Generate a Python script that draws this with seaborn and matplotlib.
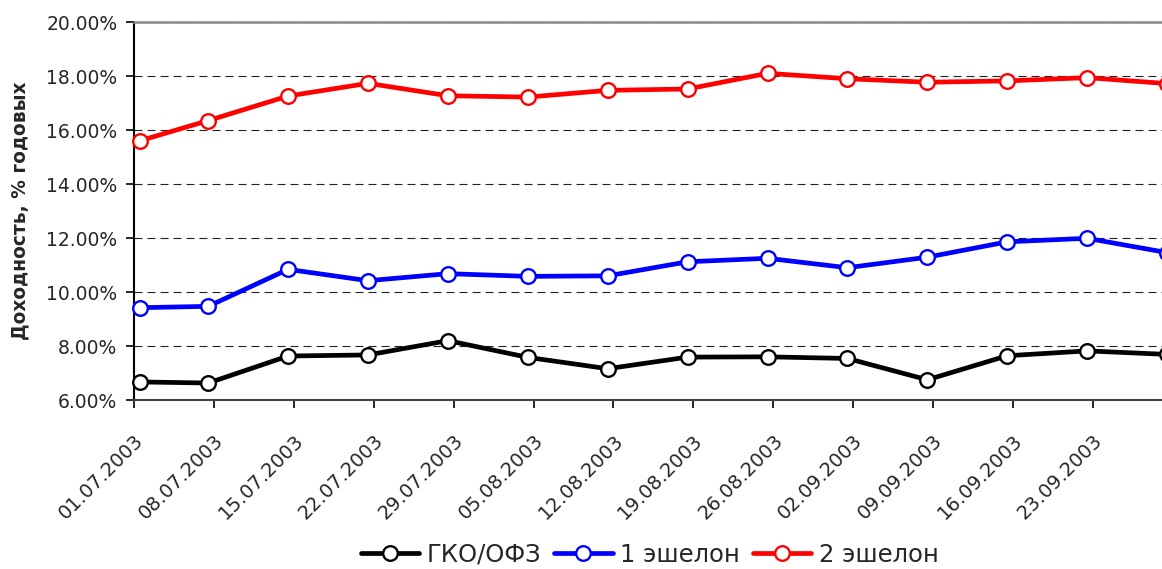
import matplotlib
matplotlib.use("Agg")
import matplotlib.pyplot as plt
import matplotlib.transforms as mtransforms
import seaborn as sns
import pandas as pd
from matplotlib.ticker import FuncFormatter

# ---- data ----
dates = ["01.07.2003", "07.07.2003", "14.07.2003", "21.07.2003", "28.07.2003",
         "04.08.2003", "11.08.2003", "18.08.2003", "25.08.2003", "01.09.2003",
         "08.09.2003", "15.09.2003", "22.09.2003", "29.09.2003"]
gko_ofz = [6.68, 6.64, 7.64, 7.68, 8.21, 7.59, 7.17, 7.60, 7.61, 7.55, 6.76, 7.65, 7.83, 7.70]
echelon1 = [9.43, 9.48, 10.85, 10.43, 10.69, 10.59, 10.61, 11.13, 11.26, 10.91, 11.30, 11.87, 12.00, 11.47]
echelon2 = [15.61, 16.36, 17.27, 17.74, 17.28, 17.23, 17.48, 17.53, 18.11, 17.91, 17.78, 17.83, 17.95, 17.73]
series_names = ["ГКО/ОФЗ", "1 эшелон", "2 эшелон"]
tick_labels = ["01.07.2003", "08.07.2003", "15.07.2003", "22.07.2003", "29.07.2003",
               "05.08.2003", "12.08.2003", "19.08.2003", "26.08.2003", "02.09.2003",
               "09.09.2003", "16.09.2003", "23.09.2003"]
y_label = "Доходность, % годовых"

colors = {"ГКО/ОФЗ": "#000000", "1 эшелон": "#0000FF", "2 эшелон": "#FF0000"}

sns.set_style("white")
plt.rcParams["font.family"] = ["DejaVu Sans"]

x = pd.to_datetime(dates, format="%d.%m.%Y")
frames = []
for name, vals in zip(series_names, [gko_ofz, echelon1, echelon2]):
    frames.append(pd.DataFrame({"date": x, "value": vals, "series": name}))
df = pd.concat(frames, ignore_index=True)

fig = plt.figure(figsize=(11.62, 5.69), dpi=100)
ax = fig.add_axes([134 / 1162, 1 - 400.3 / 569, 1 - 134 / 1162, (400.3 - 22.3) / 569])

for name in series_names:
    sub = df[df["series"] == name]
    sns.lineplot(data=sub, x="date", y="value", ax=ax, color=colors[name],
                 linewidth=3.4, marker="o", markersize=10.5,
                 markerfacecolor="white", markeredgecolor=colors[name],
                 markeredgewidth=1.7, label=name, clip_on=False, zorder=3)

# Excel-style day slots: ticks at the start of each labelled day
tick_pos = pd.to_datetime(tick_labels, format="%d.%m.%Y") - pd.Timedelta(hours=12)
ax.set_xticks(tick_pos)
ax.set_xticklabels(tick_labels, rotation=45, ha="right", va="top",
                   rotation_mode="anchor", fontsize=14)
shift = mtransforms.ScaledTranslation(-7 / 100, 0, fig.dpi_scale_trans)
for lbl in ax.get_xticklabels():
    lbl.set_transform(lbl.get_transform() + shift)
left = pd.Timestamp("2003-07-01") - pd.Timedelta(hours=12)
ax.set_xlim(left, left + pd.Timedelta(days=90.06))

ax.set_ylim(6, 20)
ax.set_yticks([6, 8, 10, 12, 14, 16, 18, 20])
ax.yaxis.set_major_formatter(FuncFormatter(lambda v, p: f"{v:.2f}%"))
ax.tick_params(axis="y", labelsize=13.5, length=6, width=1.2, direction="out",
               pad=6, color="#000000", left=True)
ax.tick_params(axis="x", length=6, width=1.2, direction="out", pad=16,
               color="#000000", bottom=True)

ax.grid(False)
ax.yaxis.grid(True, color="#222222", linewidth=0.8, linestyle=(0, (7.2, 4.5)))
ax.set_axisbelow(True)

for s in ["left", "bottom"]:
    ax.spines[s].set_color("#000000")
    ax.spines[s].set_linewidth(1.5)
ax.spines["bottom"].set_color("#444444")
ax.spines["top"].set_color("#888888")
ax.spines["top"].set_linewidth(1.8)
ax.spines["right"].set_visible(False)

ax.set_xlabel("")
ax.set_ylabel("")
fig.text(20 / 1162, 1 - 211 / 569, y_label, rotation=90, ha="center", va="center",
         fontsize=13.4, fontweight="bold")

handles, labels = ax.get_legend_handles_labels()
ax.get_legend().remove()
fig.legend(handles, labels, loc="center", bbox_to_anchor=(0.559, 1 - 555 / 569),
           ncol=3, frameon=False, fontsize=17.5, handlelength=2.4, handletextpad=0.3,
           columnspacing=0.55, borderpad=0, borderaxespad=0)

fig.savefig("out.png", dpi=100)
